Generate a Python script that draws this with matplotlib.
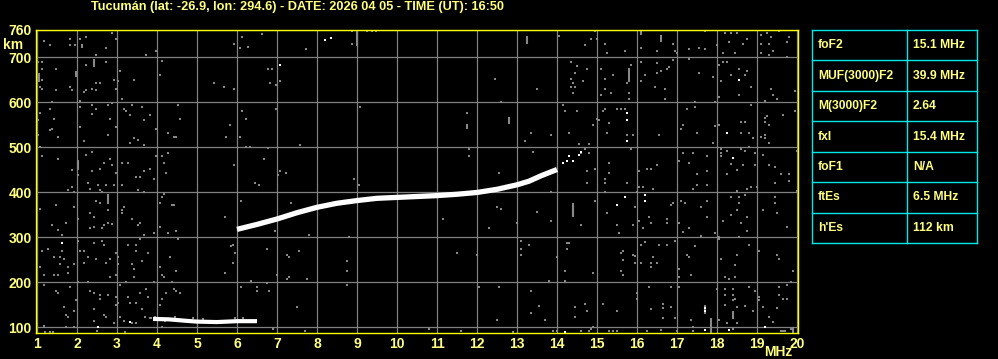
import matplotlib
matplotlib.use("Agg")
import matplotlib.pyplot as plt
import numpy as np

title = "Tucumán (lat: -26.9, lon: 294.6) - DATE: 2026 04 05 - TIME (UT): 16:50"
freq_ticks = list(range(1, 21))
height_ticks = [100, 200, 300, 400, 500, 600, 700, 760]

# F-layer trace (MHz, km)
f_mhz = [6.0, 6.5, 7.0, 7.5, 8.0, 8.5, 9.0, 9.5, 10.0, 10.5, 11.0, 11.5, 12.0, 12.5, 13.0, 13.3, 13.6, 14.0]
f_km = [317, 328, 340, 354, 366, 375, 381, 386, 388, 390, 392, 395, 399, 406, 416, 424, 436, 450]

# sporadic E trace
es_mhz = [3.9, 4.3, 4.7, 5.0, 5.5, 6.0, 6.5]
es_km = [118, 117, 114, 112, 111, 113, 113]

# scattered bright echoes
bright = [(8.2, 738), (8.35, 742), (7.08, 683), (18.54, 649), (15.74, 576), (15.74, 559),
          (15.74, 514), (18.24, 532), (14.14, 464), (14.29, 479), (14.24, 468), (14.54, 483),
          (18.39, 476), (1.63, 287), (2.53, 101), (3.33, 111), (15.49, 372), (15.69, 390),
          (16.19, 393), (16.19, 379), (17.69, 142), (17.69, 135), (19.19, 101), (18.29, 93),
          (17.69, 93), (14.19, 89), (14.4, 470), (14.6, 490)]

# grey noise dots
noise = [(1.18, 735), (1.33, 726), (1.83, 739), (1.83, 727), (1.95, 726), (2.08, 741), (2.13, 724),
         (2.23, 744), (2.73, 721), (2.88, 753), (2.98, 739), (2.48, 704), (3.73, 704), (3.98, 713),
         (5.93, 730), (6.08, 720), (6.13, 744), (6.28, 722), (6.63, 751), (7.73, 717), (8.88, 757),
         (8.88, 730), (9.26, 758), (9.38, 758), (9.48, 758), (1.03, 689), (1.13, 689), (1.13, 674),
         (1.48, 674), (1.03, 656), (1.13, 649), (1.08, 634), (1.13, 630), (1.48, 627), (1.83, 634),
         (1.88, 627), (1.98, 661), (2.23, 683), (2.43, 686), (2.73, 689), (2.48, 643), (2.58, 643),
         (2.23, 627), (2.18, 622), (2.38, 630), (2.48, 627), (2.93, 649), (3.03, 647), (2.98, 630),
         (3.08, 670), (3.13, 607), (3.43, 649), (4.13, 692), (4.08, 661), (5.43, 643), (5.68, 634),
         (5.93, 630), (6.78, 674), (6.88, 674), (7.08, 647), (6.83, 643), (6.98, 638), (2.08, 603),
         (1.38, 599), (1.08, 576), (1.33, 585), (1.43, 563), (1.03, 559), (1.33, 538), (1.38, 541),
         (1.53, 523), (1.03, 527), (2.08, 590), (2.08, 544), (2.38, 593), (2.38, 574), (2.48, 585),
         (2.18, 514), (2.78, 594), (2.88, 597), (2.83, 563), (2.78, 527), (2.98, 545), (3.18, 585),
         (3.23, 580), (3.38, 594), (3.33, 572), (3.63, 590), (3.68, 559), (3.83, 572), (3.98, 539),
         (3.43, 519), (3.53, 516), (3.33, 510), (3.68, 505), (4.28, 532), (4.43, 523), (4.48, 523),
         (4.53, 594), (4.58, 563), (5.83, 550), (5.73, 523), (6.08, 523), (6.13, 581), (6.23, 563),
         (6.98, 585), (6.23, 501), (6.33, 501), (6.78, 498), (7.58, 505), (9.08, 590), (1.08, 501),
         (1.13, 479), (1.53, 474), (1.88, 450), (2.03, 468), (2.03, 437), (2.23, 483), (2.38, 490),
         (2.38, 447), (2.58, 452), (2.68, 465), (2.83, 474), (2.88, 461), (2.98, 443), (3.13, 465),
         (3.28, 464), (3.48, 434), (3.58, 434), (3.68, 447), (3.83, 452), (3.93, 430), (3.98, 479),
         (4.13, 479), (4.18, 465), (4.23, 443), (4.28, 487), (5.93, 459), (6.68, 474), (7.03, 438),
         (7.08, 447), (7.23, 443), (8.93, 430),
         (13.24, 744), (13.24, 733), (14.04, 747), (14.69, 726), (14.84, 739), (14.99, 739),
         (14.94, 757), (15.19, 730), (15.24, 708), (15.69, 713), (16.09, 756), (16.09, 721),
         (16.59, 739), (16.49, 713), (16.89, 730), (16.94, 713), (16.99, 708), (17.29, 717),
         (17.54, 721), (17.69, 717), (17.69, 757), (17.99, 726), (18.19, 753), (18.34, 754),
         (18.49, 753), (18.29, 733), (18.64, 729), (18.74, 739), (18.14, 708), (18.44, 708),
         (19.09, 748), (19.24, 753), (19.34, 744), (19.54, 758), (19.74, 733), (19.79, 744),
         (19.09, 730), (19.29, 730), (19.09, 708), (19.29, 704), (19.39, 713), (19.74, 699),
         (17.29, 695), (16.89, 693), (14.34, 690), (14.49, 681), (14.44, 664), (14.64, 646),
         (14.74, 674), (14.34, 652), (14.39, 643), (14.34, 634), (14.44, 634), (14.39, 621),
         (15.09, 674), (15.19, 652), (15.19, 630), (15.09, 616), (15.34, 621), (15.39, 661),
         (15.79, 671), (15.79, 652), (15.84, 683), (15.74, 643), (15.79, 621), (15.79, 607),
         (16.09, 690), (16.09, 647), (16.19, 661), (16.49, 687), (16.49, 665), (16.59, 670),
         (16.74, 674), (16.79, 678), (16.44, 634), (16.69, 630), (16.69, 607), (12.44, 652),
         (13.49, 630), (17.54, 665), (17.89, 656), (18.04, 683), (18.14, 690), (18.24, 690),
         (18.09, 647), (18.04, 612), (18.54, 674), (18.34, 661), (18.69, 661), (18.74, 670),
         (18.84, 634), (18.54, 616), (19.34, 630), (19.39, 616), (19.49, 607), (19.19, 603),
         (19.94, 625), (12.59, 599), (11.74, 576), (11.74, 545), (12.79, 563), (12.79, 554),
         (13.34, 532), (13.19, 514), (13.84, 527), (14.14, 594), (14.19, 581), (14.49, 581),
         (14.29, 532), (14.89, 550), (14.99, 563), (15.04, 559), (15.14, 581), (15.19, 585),
         (15.29, 554), (15.49, 585), (15.59, 585), (15.69, 585), (15.74, 527), (15.24, 532),
         (15.89, 527), (16.54, 527), (15.84, 496), (17.24, 585), (17.44, 590), (17.44, 599),
         (17.14, 550), (17.09, 541), (17.49, 532), (17.89, 510), (17.94, 599), (17.94, 547),
         (18.04, 550), (18.59, 556), (18.69, 556), (18.59, 532), (18.79, 532), (18.84, 594),
         (19.19, 565), (19.24, 569), (19.19, 556), (19.29, 550), (19.19, 527), (19.09, 523),
         (19.19, 519), (19.29, 510), (19.64, 572), (19.94, 581), (18.89, 519), (11.79, 496),
         (11.79, 479), (12.54, 443), (13.39, 490), (14.54, 507), (14.79, 507), (14.69, 496),
         (14.79, 487), (14.59, 487), (15.29, 465), (15.29, 443), (14.94, 452), (14.74, 447),
         (15.19, 430), (16.04, 447), (16.24, 452), (16.34, 452), (16.49, 461), (17.14, 487),
         (17.39, 487), (17.04, 470), (17.29, 465), (17.74, 479), (17.74, 447), (17.49, 439),
         (18.09, 496), (18.09, 487), (18.09, 479), (18.24, 492), (18.59, 496), (18.69, 492),
         (18.34, 463), (18.49, 450), (18.64, 459), (18.94, 459), (18.94, 487), (18.79, 501),
         (19.14, 483), (19.29, 461), (19.44, 456), (19.59, 439), (19.79, 439), (19.99, 492),
         (18.24, 441),
         (1.78, 405), (1.88, 412), (1.93, 400), (2.33, 407), (2.53, 416), (2.73, 416), (2.93, 416),
         (2.58, 405), (2.63, 400), (2.28, 421), (3.13, 416), (3.53, 405), (3.68, 399), (4.13, 390),
         (4.18, 396), (4.38, 372), (4.43, 372), (2.78, 390), (2.78, 375), (1.48, 372), (1.08, 363),
         (1.93, 367), (2.33, 353), (2.43, 345), (2.03, 341), (2.48, 381), (2.58, 376), (2.78, 359),
         (2.78, 332), (3.13, 359), (3.18, 367), (3.13, 354), (3.38, 341), (3.58, 332), (3.53, 327),
         (2.68, 327), (2.88, 330), (1.73, 332), (1.38, 327), (1.53, 316), (1.63, 305), (2.33, 319),
         (2.43, 323), (2.63, 319), (4.08, 376), (4.08, 323), (3.93, 310), (4.28, 310), (4.48, 314),
         (2.03, 292), (2.43, 287), (2.63, 292), (2.68, 283), (3.28, 283), (3.48, 283), (3.48, 270),
         (3.58, 296), (3.68, 305), (1.13, 270), (1.28, 274), (1.43, 256), (1.58, 256), (1.68, 252),
         (1.63, 270), (1.08, 234), (1.18, 216), (1.43, 216), (1.53, 216), (1.78, 221), (1.58, 239),
         (1.78, 234), (1.93, 239), (2.08, 270), (2.18, 270), (2.28, 256), (2.18, 243), (2.48, 252),
         (2.73, 243), (2.83, 252), (2.98, 265), (3.03, 256), (3.03, 239), (2.98, 216), (2.83, 212),
         (3.38, 239), (3.43, 230), (3.43, 212), (3.63, 247), (3.78, 265), (4.08, 234), (4.13, 216),
         (4.18, 212), (4.48, 225), (4.33, 256), (4.53, 296), (1.18, 194), (1.48, 181), (1.53, 176),
         (1.83, 190), (2.03, 199), (2.28, 199), (2.43, 176), (2.33, 181), (2.58, 163), (2.58, 172),
         (2.78, 172), (2.98, 167), (2.98, 150), (3.03, 154), (3.08, 194), (3.23, 199), (3.28, 167),
         (3.33, 154), (3.48, 154), (3.58, 176), (3.73, 185), (3.78, 167), (3.93, 199), (4.13, 163),
         (4.08, 150), (4.23, 176), (4.38, 199), (4.43, 185), (4.48, 181), (4.58, 176), (1.68, 145),
         (1.73, 127), (1.78, 123), (1.93, 136), (1.98, 159), (1.18, 102), (1.33, 90), (1.73, 101),
         (1.93, 101), (2.43, 141), (2.43, 114), (2.68, 127), (2.73, 123), (2.93, 108), (3.08, 123),
         (3.18, 114), (3.38, 110), (3.48, 110), (3.63, 141), (3.83, 119), (4.13, 101), (5.69, 345),
         (6.09, 381), (7.34, 376), (6.94, 314), (6.74, 274), (7.79, 305), (8.79, 301), (5.89, 283),
         (5.84, 279), (5.94, 265), (5.89, 243), (5.69, 221), (6.34, 203), (6.09, 190), (6.49, 190),
         (6.49, 181), (6.74, 198), (6.79, 181), (6.99, 216), (7.24, 261), (7.29, 256), (7.54, 270),
         (7.24, 207), (7.29, 212), (7.74, 207), (7.49, 144), (8.74, 247), (8.74, 225), (8.74, 194),
         (6.89, 96), (9.04, 416), (6.44, 421), (6.54, 416),
         (3.70, 123), (3.85, 119), (3.95, 123), (4.2, 114), (4.45, 123), (4.9, 119), (5.15, 117),
         (5.45, 108), (5.75, 114), (5.95, 119), (6.15, 121), (6.35, 114),
         (14.74, 421), (15.19, 421), (15.74, 421), (16.04, 412), (16.14, 412), (16.39, 407),
         (17.39, 407), (17.49, 416), (17.74, 416), (18.49, 403), (18.74, 407), (18.99, 412),
         (19.44, 421), (19.79, 425), (13.84, 400), (14.39, 373), (14.39, 353), (14.94, 381),
         (15.19, 399), (15.94, 367), (15.99, 399), (12.49, 367), (12.59, 363), (13.49, 356),
         (11.14, 341), (12.29, 319), (13.84, 336), (12.99, 332), (14.59, 327), (15.24, 354),
         (15.49, 327), (15.54, 308), (15.89, 327), (16.04, 336), (16.14, 319), (16.29, 345),
         (16.34, 332), (16.74, 341), (16.74, 332), (16.89, 376), (16.84, 372), (17.09, 381),
         (17.19, 376), (17.04, 332), (17.14, 311), (17.29, 319), (17.59, 367), (17.74, 381),
         (17.74, 345), (17.59, 302), (17.94, 310), (18.04, 301), (18.14, 336), (18.34, 350),
         (18.54, 376), (18.49, 359), (18.69, 394), (18.59, 332), (18.74, 345), (18.74, 314),
         (19.14, 359), (19.44, 390), (19.44, 376), (19.49, 354), (19.74, 323), (18.84, 412),
         (18.34, 390), (18.54, 390), (19.99, 403), (18.54, 301), (13.09, 292), (13.09, 274),
         (13.09, 261), (13.29, 283), (14.24, 287), (14.29, 287), (14.24, 274), (13.99, 256),
         (14.19, 225), (14.19, 203), (14.89, 221), (13.79, 203), (15.59, 264), (15.64, 270),
         (15.64, 248), (15.59, 225), (15.64, 216), (15.89, 261), (15.94, 257), (15.94, 243),
         (16.09, 243), (16.19, 288), (16.09, 283), (16.39, 256), (16.34, 243), (16.49, 243),
         (16.34, 234), (16.54, 283), (16.74, 283), (16.94, 292), (17.04, 230), (17.24, 261),
         (17.29, 256), (17.34, 216), (17.44, 279), (17.04, 212), (18.09, 252), (18.19, 212),
         (18.29, 207), (18.44, 212), (18.49, 261), (18.44, 238), (18.79, 283), (19.04, 270),
         (19.49, 261), (19.54, 252), (19.89, 225), (18.04, 296), (11.49, 265), (11.99, 261),
         (12.04, 190), (12.54, 190), (13.34, 181), (13.54, 147), (13.34, 132), (13.69, 116),
         (12.49, 116), (14.44, 144), (14.44, 122), (14.69, 151), (14.74, 135), (15.14, 151),
         (14.89, 101), (15.49, 136), (15.99, 175), (15.99, 163), (16.29, 190), (16.34, 139),
         (16.64, 151), (16.64, 142), (16.84, 144), (16.84, 190), (17.04, 190), (16.64, 119),
         (16.94, 119), (17.34, 116), (17.39, 101), (17.99, 185), (18.19, 185), (18.19, 172),
         (18.39, 185), (18.39, 172), (18.39, 159), (18.44, 163), (18.19, 150), (18.49, 144),
         (18.39, 122), (18.79, 190), (18.94, 181), (19.04, 167), (19.04, 159), (18.89, 136),
         (19.14, 145), (19.29, 122), (19.49, 142), (19.54, 190), (19.54, 172), (19.74, 194),
         (19.74, 163), (19.84, 199), (19.64, 162), (19.39, 111), (18.04, 116), (18.24, 110),
         (18.49, 110), (18.69, 147), (11.6, 92), (13.9, 92), (14.0, 92), (14.6, 92), (14.8, 92),
         (14.85, 95), (15.3, 92), (15.4, 92), (15.5, 92), (16.25, 92), (16.6, 94), (17.0, 92),
         (17.4, 92), (18.4, 95), (19.6, 92), (19.65, 92), (19.7, 92), (19.85, 95), (1.2, 90),
         (1.4, 89), (2.5, 92), (3.2, 90), (7.7, 92), (10.8, 95), (12.9, 90)]

# vertical streaks (MHz, km bottom, km top)
streaks = [(1.05, 645, 665), (2.43, 678, 695), (2.03, 450, 470), (2.78, 375, 395), (17.84, 87, 119),
           (18.39, 118, 135), (14.39, 345, 375), (15.79, 645, 675), (16.59, 733, 748), (12.79, 553, 566),
           (1.0, 87, 110), (11.74, 540, 552), (14.39, 350, 372), (16.09, 750, 760), (9.0, 725, 760),
           (17.69, 130, 150), (19.9, 87, 100), (13.24, 730, 746), (1.98, 655, 668), (2.13, 719, 730)]

param_names = ["foF2", "MUF(3000)F2", "M(3000)F2", "fxI", "foF1", "ftEs", "h'Es"]
param_values = ["15.1 MHz", "39.9 MHz", "2.64", "15.4 MHz", "N/A", "6.5 MHz", "112 km"]

plt.rcParams['font.family'] = ['Liberation Sans Narrow', 'Liberation Sans', 'DejaVu Sans']
plt.rcParams['font.weight'] = 'bold'
yellow_txt = '#ffff80'

W, H = 998, 359
fig = plt.figure(figsize=(W / 100, H / 100), dpi=100, facecolor='black')
ax = fig.add_axes([36 / W, (H - 333) / H, 762 / W, 303 / H])
ax.set_facecolor('black')
ax.set_xlim(0.975, 20.025)
ax.set_ylim(86.7, 760)
ax.set_xticks(freq_ticks)
ax.set_yticks(height_ticks)
ax.grid(True, color='#808080', lw=0.9)
ax.set_axisbelow(True)
for s in ax.spines.values():
    s.set_color('#ffff00')
    s.set_linewidth(1.0)
ax.tick_params(length=0, colors=yellow_txt, labelsize=10)
ax.tick_params(axis='x', pad=3)
ax.tick_params(axis='y', pad=3)

nz = np.array(noise)
ax.scatter(nz[:, 0], nz[:, 1], s=4.0, marker='s', color='#888888', linewidths=0,
           antialiased=False, zorder=2)
for fx, lo, hi in streaks:
    ax.vlines(fx, lo, hi, color='#888888', lw=1.5, zorder=2)
br = np.array(bright)
ax.scatter(br[:, 0], br[:, 1], s=4.0, marker='s', color='white', linewidths=0,
           antialiased=False, zorder=3)

ax.plot(f_mhz, f_km, color='white', lw=3.8, solid_capstyle='butt', zorder=4)
ax.plot(es_mhz, es_km, color='white', lw=3.0, solid_capstyle='butt', zorder=4)

fig.text(91 / W, 1 - 7 / H, title, color=yellow_txt, fontsize=9.2, ha='left', va='center')
fig.text(13 / W, 1 - 45 / H, "km", color=yellow_txt, fontsize=10, ha='center', va='center')
fig.text(778 / W, 1 - 352 / H, "MHz", color=yellow_txt, fontsize=10, ha='center', va='center')

# parameter table
tx = fig.add_axes([812 / W, (H - 243) / H, 165 / W, 213 / H])
tx.set_xlim(0, 165)
tx.set_ylim(len(param_names), 0)
tx.axis('off')
cyan = '#00e8e8'
for i in range(len(param_names) + 1):
    tx.plot([0, 165], [i, i], color=cyan, lw=1.0, clip_on=False)
for xv in (0, 95, 165):
    tx.plot([xv, xv], [0, len(param_names)], color=cyan, lw=1.0, clip_on=False)
for i, (n, v) in enumerate(zip(param_names, param_values)):
    tx.text(6, i + 0.5, n, color=yellow_txt, fontsize=8.7, va='center', ha='left')
    tx.text(101, i + 0.5, v, color=yellow_txt, fontsize=8.7, va='center', ha='left')

fig.savefig('out.png', dpi=100, facecolor='black')
